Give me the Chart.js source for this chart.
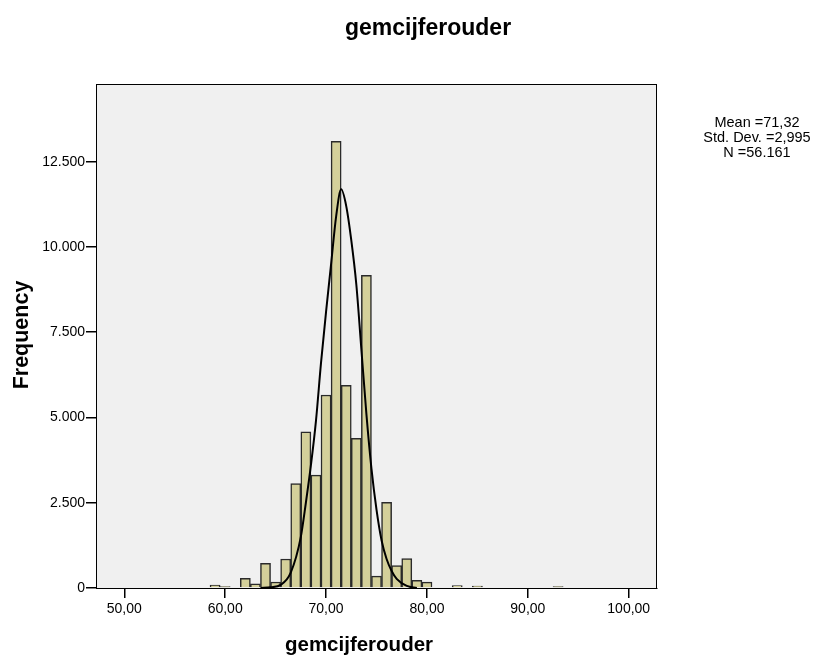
<!DOCTYPE html>
<html>
<head>
<meta charset="utf-8">
<script src="https://cdn.jsdelivr.net/npm/chart.js@4.4.1/dist/chart.umd.min.js"></script>
<style>
  html, body { margin: 0; padding: 0; background: #fff; }
  #wrap { width: 825px; height: 658px; position: relative; }
</style>
</head>
<body>
<div id="wrap"><canvas id="hist"></canvas></div>
<script>
// histogram bins (bin centre) and counts
var binCentres = [59, 60, 62, 63, 64, 65, 66, 67, 68, 69, 70, 71, 72, 73, 74, 75, 76, 77, 78, 79, 80, 83, 85, 93];
var binCounts  = [85, 40, 280, 120, 720, 175, 850, 3060, 4580, 3310, 5660, 13100, 5940, 4390, 9170, 350, 2510, 655, 860, 225, 170, 70, 55, 40];

// normal curve as drawn
var curveX = [63.5, 64.5, 65.5, 66.5, 67.5, 68, 68.5, 69, 69.5, 70, 70.5, 71, 71.5, 72, 72.5, 73, 73.5, 74, 74.5, 75, 75.5, 76, 76.5, 77, 78, 79];
var curveY = [0, 20, 90, 450, 1500, 2500, 3600, 4900, 6600, 8100, 9500, 10900, 11690, 11200, 10200, 8900, 7000, 5100, 3500, 2300, 1400, 850, 500, 270, 60, 0];

var xTicks = [50, 60, 70, 80, 90, 100];
var yTicks = [0, 2500, 5000, 7500, 10000, 12500];

var chartTitle = 'gemcijferouder';
var xTitle = 'gemcijferouder';
var yTitle = 'Frequency';
var statLines = ['Mean =71,32', 'Std. Dev. =2,995', 'N =56.161'];

var barData = binCentres.map(function (c, i) { return { x: c, y: binCounts[i] }; });
var lineData = curveX.map(function (c, i) { return { x: c, y: curveY[i] }; });

var spssDecor = {
  id: 'spssDecor',
  beforeDatasetsDraw: function (chart) {
    var a = chart.chartArea, ctx = chart.ctx;
    ctx.save();
    ctx.fillStyle = '#f0f0f0';
    ctx.fillRect(a.left, a.top, a.right - a.left, a.bottom - a.top);
    ctx.restore();
  },
  afterDraw: function (chart) {
    var a = chart.chartArea, ctx = chart.ctx;
    ctx.save();
    ctx.strokeStyle = '#000';
    ctx.lineWidth = 1;
    ctx.strokeRect(a.left + 0.5, a.top + 0.5, a.right - a.left - 1, a.bottom - a.top);
    ctx.fillStyle = '#000';
    ctx.textAlign = 'center';
    ctx.textBaseline = 'middle';
    ctx.font = 'bold 23px "Liberation Sans", Arial, sans-serif';
    ctx.fillText(chartTitle, 428, 29);
    ctx.font = 'bold 20.5px "Liberation Sans", Arial, sans-serif';
    ctx.fillText(xTitle, 359, 645);
    ctx.save();
    ctx.translate(22, 335);
    ctx.rotate(-Math.PI / 2);
    ctx.font = 'bold 21.5px "Liberation Sans", Arial, sans-serif';
    ctx.fillText(yTitle, 0, 0);
    ctx.restore();
    ctx.font = '14.5px "Liberation Sans", Arial, sans-serif';
    statLines.forEach(function (t, i) {
      ctx.fillText(t, 757, 123 + i * 15);
    });
    ctx.restore();
  }
};

new Chart(document.getElementById('hist'), {
  type: 'bar',
  data: {
    datasets: [
      {
        type: 'line',
        data: lineData,
        borderColor: '#000',
        borderWidth: 2,
        pointRadius: 0,
        fill: false,
        cubicInterpolationMode: 'monotone',
        order: 0
      },
      {
        type: 'bar',
        data: barData,
        backgroundColor: '#d4d09a',
        borderColor: '#2a2a2a',
        borderWidth: 1.5,
        barPercentage: 1,
        categoryPercentage: 1,
        order: 1
      }
    ]
  },
  options: {
    responsive: true,
    maintainAspectRatio: false,
    animation: false,
    layout: { padding: { left: 0, top: 84, right: 168, bottom: 0 } },
    plugins: { legend: { display: false }, tooltip: { enabled: false } },
    scales: {
      x: {
        type: 'linear',
        min: 47.2,
        max: 102.8,
        offset: false,
        afterBuildTicks: function (s) { s.ticks = xTicks.map(function (v) { return { value: v }; }); },
        afterFit: function (s) { s.height = 70; },
        grid: { offset: false, drawOnChartArea: false, drawTicks: true, tickLength: 10, color: '#000', lineWidth: 1.5 },
        border: { display: true, color: '#000', width: 1 },
        ticks: {
          color: '#000',
          padding: 3,
          maxRotation: 0,
          font: { family: '"Liberation Sans", Arial, sans-serif', size: 14 },
          callback: function (v) { return v.toFixed(2).replace('.', ','); }
        }
      },
      y: {
        min: 0,
        max: 14780,
        afterBuildTicks: function (s) { s.ticks = yTicks.map(function (v) { return { value: v }; }); },
        afterFit: function (s) { s.width = 96; },
        grid: { drawOnChartArea: false, drawTicks: true, tickLength: 10, color: '#000', lineWidth: 1.5 },
        border: { display: true, color: '#000', width: 1 },
        ticks: {
          color: '#000',
          padding: 1,
          font: { family: '"Liberation Sans", Arial, sans-serif', size: 14 },
          callback: function (v) { return v.toLocaleString('de-DE'); }
        }
      }
    }
  },
  plugins: [spssDecor]
});
</script>
</body>
</html>
